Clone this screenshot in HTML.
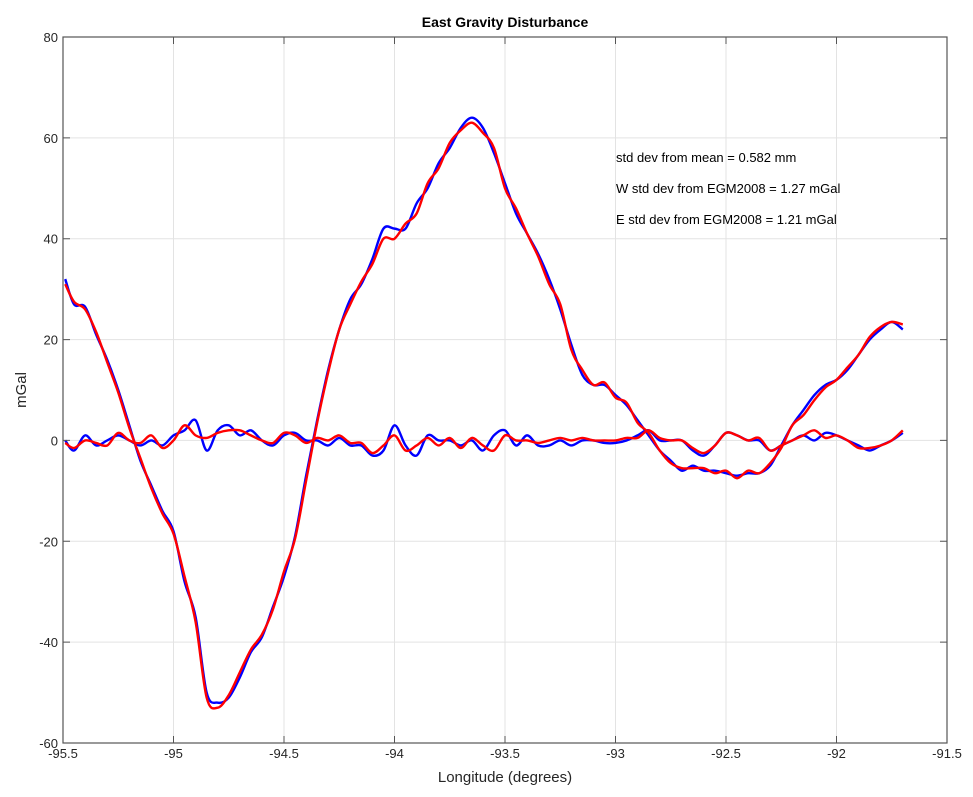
<!DOCTYPE html>
<html><head><meta charset="utf-8"><style>
html,body{margin:0;padding:0;background:#fff;}
svg{display:block;font-family:"Liberation Sans",Arial,sans-serif;}
</style></head><body>
<svg id="chart" width="973" height="797" viewBox="0 0 973 797">
<rect x="0" y="0" width="973" height="797" fill="#fff"/>
<g id="grid"></g>
<g id="series"></g>
<g id="axes"></g>
<text x="505" y="27" text-anchor="middle" font-size="14" font-weight="bold" fill="#000">East Gravity Disturbance</text>
<text x="505" y="782" text-anchor="middle" font-size="15" fill="#262626">Longitude (degrees)</text>
<text transform="translate(26,390) rotate(-90)" text-anchor="middle" font-size="15" fill="#262626">mGal</text>
<text x="616" y="162" font-size="13" fill="#000">std dev from mean = 0.582 mm</text>
<text x="616" y="193" font-size="13" fill="#000">W std dev from EGM2008 = 1.27 mGal</text>
<text x="616" y="224" font-size="13" fill="#000">E std dev from EGM2008 = 1.21 mGal</text>
</svg>
<script>
const lon = [-95.49,-95.45,-95.4,-95.35,-95.3,-95.25,-95.2,-95.15,-95.1,-95.05,-95.0,-94.95,-94.9,-94.85,-94.8,-94.75,-94.7,-94.65,-94.6,-94.55,-94.5,-94.45,-94.4,-94.35,-94.3,-94.25,-94.2,-94.15,-94.1,-94.05,-94.0,-93.95,-93.9,-93.85,-93.8,-93.75,-93.7,-93.65,-93.6,-93.55,-93.5,-93.45,-93.4,-93.35,-93.3,-93.25,-93.2,-93.15,-93.1,-93.05,-93.0,-92.95,-92.9,-92.85,-92.8,-92.75,-92.7,-92.65,-92.6,-92.55,-92.5,-92.45,-92.4,-92.35,-92.3,-92.25,-92.2,-92.15,-92.1,-92.05,-92.0,-91.95,-91.9,-91.85,-91.8,-91.75,-91.7];
const gravW = [32,27,26.5,21,16,10,3,-4,-9,-14,-18,-28,-35,-50,-52,-51,-47,-42,-39,-33,-27,-19,-7,4,14,22,28,31,36,42,42,42,47,50,55,58,62,64,62,57,51,45,41,37,32,26,19,13,11,11,9,7,4,1,-2,-4,-6,-5,-6,-6,-6.5,-7,-6.5,-6.5,-5,-1,3,6,9,11,12,14,17,20,22,23.5,22];
const gravE = [31,27.5,26,21.5,15.5,9.5,2.5,-3.5,-9.5,-14.5,-18.5,-27,-36,-51,-53,-50.5,-46,-41.5,-38.5,-33.5,-26,-19.5,-8,3.5,13.5,22,27,31.5,35,40,40,43,45,51,54,59,61.5,63,61,58,50,46,41,36.5,31,27,18,14,11,11.5,8.5,7.5,3.5,1.5,-2,-4.5,-5.5,-5.5,-5.5,-6.5,-6,-7.5,-6,-6.5,-4.5,-1.5,3,5,8,10.5,12,14.5,17,20.5,22.5,23.5,23];
const diffW = [0,-2,1,-1,0,1,0,-1,0,-1,1,2,4,-2,2,3,1,2,0,-1,1,1.5,0,0,-1,0.5,-1,-1,-3,-2,3,-1,-3,1,0,0,-1,0,-2,1,2,-1,1,-1,-1,0,-1,0,0,-0.5,-0.5,0,1,2,0,0,0,-2,-3,-1,1.5,1,0,0,-2,-1,0,1,0,1.5,1,0,-1,-2,-1,0,1.5];
const diffE = [-0.5,-1.5,0,-0.5,-1,1.5,0,-0.5,1,-1.5,0,3,1,0.5,1.5,2,2,1,0,-0.5,1.5,1,-0.5,0.5,0,1,-0.5,-0.5,-2.5,-1,1,-2,-1,0.5,-1,0.5,-1.5,0.5,-1,-2,1,0,0,-0.5,0,0.5,0,0.5,0,0,0,0.5,0.5,2,0.5,0,0,-1.5,-2.5,-1,1.5,1,0,0.5,-2,-1,0,1,2,0.5,1,0,-1.5,-1.5,-1,0,2];
const xTicks = [-95.5,-95,-94.5,-94,-93.5,-93,-92.5,-92,-91.5];
const xTickLabels = ["-95.5","-95","-94.5","-94","-93.5","-93","-92.5","-92","-91.5"];
const yTicks = [-60,-40,-20,0,20,40,60,80];
const yTickLabels = ["-60","-40","-20","0","20","40","60","80"];

const L=63,R=947,T=37,B=743;
const xMin=-95.5,xMax=-91.5,yMin=-60,yMax=80;
function xs(v){return L+(v-xMin)/(xMax-xMin)*(R-L);}
function ys(v){return B-(v-yMin)/(yMax-yMin)*(B-T);}
const NS="http://www.w3.org/2000/svg";
function mk(tag,attrs,parent){const e=document.createElementNS(NS,tag);for(const k in attrs)e.setAttribute(k,attrs[k]);parent.appendChild(e);return e;}
const grid=document.getElementById('grid'),axes=document.getElementById('axes'),series=document.getElementById('series');
xTicks.forEach((t,i)=>{
  const x=xs(t);
  const g=mk('line',{x1:x,x2:x,y1:T,y2:B,stroke:'#e3e3e3','stroke-width':1},grid);
  
  
  const tk=mk('path',{d:`M${x},${B}v-7M${x},${T}v7`,stroke:'#555','stroke-width':1},axes);
  
  
  const lb=mk('text',{x:x,y:B+15,'text-anchor':'middle','font-size':13,fill:'#262626'},axes);
  lb.textContent=xTickLabels[i];
  
  
});
yTicks.forEach((t,i)=>{
  const y=ys(t);
  const g=mk('line',{x1:L,x2:R,y1:y,y2:y,stroke:'#e3e3e3','stroke-width':1},grid);
  
  
  const tk=mk('path',{d:`M${L},${y}h7M${R},${y}h-7`,stroke:'#555','stroke-width':1},axes);
  
  
  const lb=mk('text',{x:L-5,y:y+5,'text-anchor':'end','font-size':13,fill:'#262626'},axes);
  lb.textContent=yTickLabels[i];
  
  
});
const box=mk('rect',{x:L,y:T,width:R-L,height:B-T,fill:'none',stroke:'#555','stroke-width':1.2},axes);


function smooth(vals){
  const p=vals.map((v,i)=>[xs(lon[i]),ys(v)]);
  let d=`M${p[0][0]},${p[0][1]}`;
  for(let i=0;i<p.length-1;i++){
    const p0=p[Math.max(0,i-1)],p1=p[i],p2=p[i+1],p3=p[Math.min(p.length-1,i+2)];
    const c1=[p1[0]+(p2[0]-p0[0])/6,p1[1]+(p2[1]-p0[1])/6];
    const c2=[p2[0]-(p3[0]-p1[0])/6,p2[1]-(p3[1]-p1[1])/6];
    d+=`C${c1[0]},${c1[1]} ${c2[0]},${c2[1]} ${p2[0]},${p2[1]}`;
  }
  return d;
}
const l1=mk('path',{d:smooth(gravW),fill:'none',stroke:'#0000ff','stroke-width':2.4},series);


const l2=mk('path',{d:smooth(diffW),fill:'none',stroke:'#0000ff','stroke-width':2.4},series);


const l3=mk('path',{d:smooth(gravE),fill:'none',stroke:'#ff0000','stroke-width':2.4},series);


const l4=mk('path',{d:smooth(diffE),fill:'none',stroke:'#ff0000','stroke-width':2.4},series);


</script>
</body></html>
